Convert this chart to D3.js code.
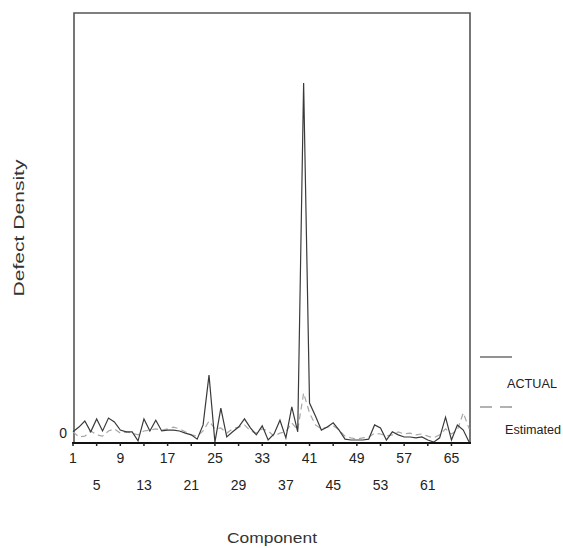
<!DOCTYPE html>
<html><head><meta charset="utf-8">
<script src="https://cdn.jsdelivr.net/npm/d3@7/dist/d3.min.js"></script>
<style>body{margin:0;background:#fff}svg{display:block}text{font-family:"Liberation Sans",Arial,sans-serif}</style>
</head><body><svg id="c" width="563" height="548"></svg>
<script>
const components = d3.range(1, 69);
const actual = [2.6,3.7,5.1,2.6,5.6,2.8,5.8,4.9,3.0,2.6,2.6,0.5,5.6,2.8,5.3,2.8,3.0,3.0,2.8,2.3,
  1.9,0.9,4.2,15.8,0.2,8.1,1.4,2.6,3.7,5.6,3.5,1.9,4.0,0.7,2.1,5.3,1.2,8.4,2.6,83.7,
  9.3,6.3,3.0,3.7,4.7,3.0,0.9,0.7,0.7,0.7,0.9,4.2,3.5,0.7,2.6,1.9,1.4,1.4,1.2,1.4,
  0.7,0.2,1.2,6.0,0.7,4.2,3.0,0.2];
const estimated = [2.6,1.4,1.6,2.8,1.9,1.6,2.8,3.3,2.3,2.6,2.3,1.9,2.8,3.0,3.3,3.0,3.3,3.7,3.3,2.6,
  1.9,1.6,2.8,5.1,3.3,3.5,2.3,3.3,3.7,4.2,2.8,2.3,3.3,2.8,1.6,2.3,2.6,4.7,3.0,11.6,
  7.0,4.2,3.3,3.7,4.0,3.0,1.6,1.2,0.9,1.2,1.4,2.3,2.1,1.6,1.9,2.6,2.1,2.3,1.9,2.1,
  1.6,1.2,1.9,3.3,2.1,3.0,7.0,3.3];
const tickUpper = [1,9,17,25,33,41,49,57,65];
const tickLower = [5,13,21,29,37,45,53,61];
const yTickLabels = ["0"];
const seriesNames = ["ACTUAL","Estimated"];

const svg = d3.select("#c");
const x = d3.scaleLinear().domain([1, 68]).range([73, 469.2]);
const y = d3.scaleLinear().domain([0, 100]).range([443, 13]);

// frame
svg.append("path").attr("d","M74,443 L74,13 L470,13 L470,443")
  .attr("fill","none").attr("stroke","#555").attr("stroke-width",1.6);

// lines
const line = d3.line().x((d,i)=>x(components[i])).y(d=>y(d));
svg.append("path").datum(estimated).attr("d",line).attr("fill","none")
  .attr("stroke","#a8a8a8").attr("stroke-width",1.2).attr("stroke-dasharray","6,4");
svg.append("path").datum(actual).attr("d",line).attr("fill","none")
  .attr("stroke","#3a3a3a").attr("stroke-width",1.2).attr("stroke-linejoin","miter");

// bottom axis
svg.append("line").attr("x1",72).attr("x2",471).attr("y1",443).attr("y2",443)
  .attr("stroke","#111").attr("stroke-width",2);
const allTicks = tickUpper.concat(tickLower);
svg.selectAll(".tk").data(allTicks).enter().append("line")
  .attr("x1",d=>x(d)).attr("x2",d=>x(d)).attr("y1",443).attr("y2",446)
  .attr("stroke","#222").attr("stroke-width",1.5);
svg.selectAll(".tu").data(tickUpper).enter().append("text")
  .attr("x",d=>x(d)).attr("y",463).attr("text-anchor","middle")
  .attr("font-size",14).attr("fill","#222").text(d=>d);
svg.selectAll(".tl").data(tickLower).enter().append("text")
  .attr("x",d=>x(d)).attr("y",490).attr("text-anchor","middle")
  .attr("font-size",14).attr("fill","#222").text(d=>d);

// y tick label
svg.selectAll(".yl").data(yTickLabels).enter().append("text")
  .attr("x",67).attr("y",y(0)-5).attr("text-anchor","end")
  .attr("font-size",14).attr("fill","#222").text(d=>d);

// axis titles
svg.append("text").attr("transform","translate(24,228) rotate(-90)")
  .attr("text-anchor","middle").attr("font-size",15).attr("fill","#333")
  .attr("textLength",137).attr("lengthAdjust","spacingAndGlyphs").text("Defect Density");
svg.append("text").attr("x",272).attr("y",543).attr("text-anchor","middle")
  .attr("font-size",15).attr("fill","#333")
  .attr("textLength",90).attr("lengthAdjust","spacingAndGlyphs").text("Component");

// legend
svg.append("line").attr("x1",480).attr("x2",512).attr("y1",357).attr("y2",357)
  .attr("stroke","#777").attr("stroke-width",1.6);
svg.append("text").attr("x",507).attr("y",388).attr("font-size",12).attr("fill","#222")
  .attr("textLength",50).attr("lengthAdjust","spacingAndGlyphs").text(seriesNames[0]);
svg.append("line").attr("x1",480).attr("x2",512).attr("y1",407).attr("y2",407)
  .attr("stroke","#999").attr("stroke-width",1.6).attr("stroke-dasharray","12,8");
svg.append("text").attr("x",505).attr("y",434).attr("font-size",12).attr("fill","#222")
  .attr("textLength",56).attr("lengthAdjust","spacingAndGlyphs").text(seriesNames[1]);
</script></body></html>
